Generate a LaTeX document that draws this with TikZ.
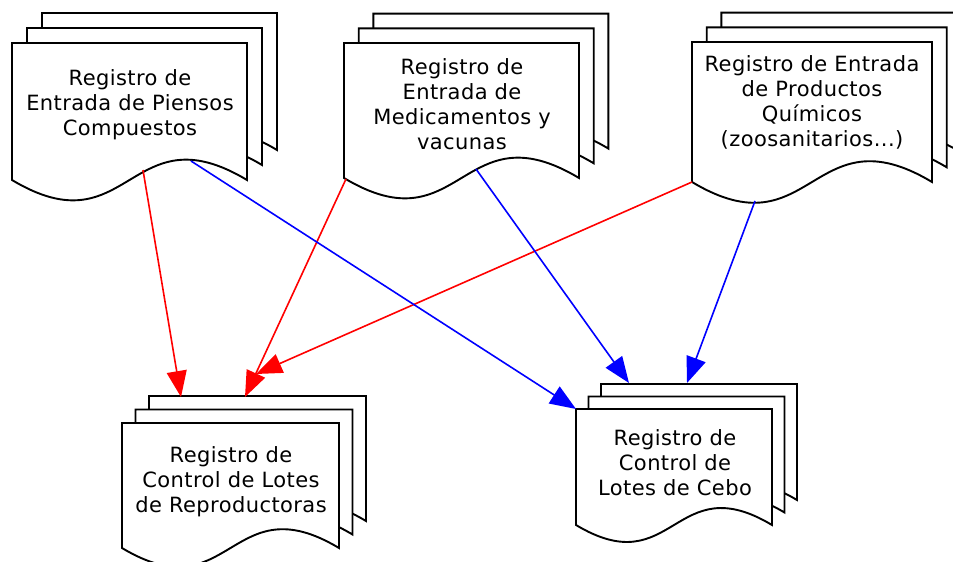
\documentclass[tikz,border=0pt]{standalone}
\usepackage{fontspec}
\setmainfont{DejaVu Sans}[LetterSpace=2]
\usetikzlibrary{arrows.meta}

% one sheet: x, y (top left), width, height
\newcommand{\docpage}[4]{%
  \filldraw[fill=white, line width=1.9pt] (#1,#2+#4) -- (#1,#2) -- (#1+#3,#2) -- (#1+#3,#2+#4)
    .. controls (#1+0.5*#3,#2+#4-0.3*#3) and (#1+0.5*#3,#2+#4+0.3*#3) .. (#1,#2+#4) -- cycle;}
% three sheets: x, y, width, height, offset
\newcommand{\docstack}[5]{%
  \docpage{#1+2*#5}{#2-2*#5}{#3}{#4}
  \docpage{#1+#5}{#2-#5}{#3}{#4}
  \docpage{#1}{#2}{#3}{#4}}

\begin{document}
\begin{tikzpicture}[x=1pt, y=-1pt,
    doctext/.style={align=center, font=\fontsize{21}{25}\selectfont},
    redarrow/.style={draw=red, line width=1.6pt, -{Triangle[length=26pt,width=20pt]}},
    bluearrow/.style={draw=blue, line width=1.6pt, -{Triangle[length=26pt,width=20pt]}}]
                    \useasboundingbox (0,0) rectangle (953,562);
                    \docstack{12}{43}{235}{137}{15}
                    \docstack{344}{43}{235}{135}{14.7}
                    \docstack{692}{42}{240}{140}{14.7}
                    \docstack{122}{423}{217}{125}{13.5}
                    \docstack{576}{409}{196}{116}{12.5}
                    \node[doctext] (piensos) at (130,105) {Registro de\\Entrada de Piensos\\Compuestos};
                    \node[doctext] (medic) at (462,104.5) {Registro de\\Entrada de\\Medicamentos y\\vacunas};
                    \node[doctext] (quimic) at (812,102.5) {Registro de Entrada\\de Productos\\Químicos\\(zoosanitarios...)};
                    \node[doctext] (reprod) at (231,482) {Registro de\\Control de Lotes\\de Reproductoras};
                    \node[doctext] (cebo) at (675,463) {Registro de\\Control de\\Lotes de Cebo};
                    % connection points
                    \coordinate (piensos-r) at (143,170);
                    \coordinate (piensos-b) at (191,161);
                    \coordinate (medic-r) at (346,179);
                    \coordinate (medic-b) at (476,169);
                    \coordinate (quimic-r) at (692,182);
                    \coordinate (quimic-b) at (755,201);
                    \coordinate (reprod-1) at (181,397);
                    \coordinate (reprod-2) at (245,397);
                    \coordinate (reprod-3) at (256,374);
                    \coordinate (cebo-1) at (576,409);
                    \coordinate (cebo-2) at (629,383);
                    \coordinate (cebo-3) at (687,383);
                    \draw[redarrow] (piensos-r)--(reprod-1);
                    \draw[redarrow] (medic-r)--(reprod-2);
                    \draw[redarrow] (quimic-r)--(reprod-3);
                    \draw[bluearrow] (piensos-b)--(cebo-1);
                    \draw[bluearrow] (medic-b)--(cebo-2);
                    \draw[bluearrow] (quimic-b)--(cebo-3);
               \end{tikzpicture}
\end{document}
